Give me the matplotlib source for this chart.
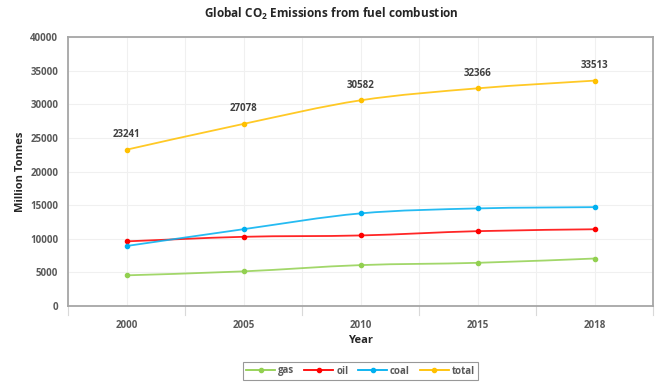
"""
Line chart of global CO2 emissions from fuel combustion by fuel, 2000-2018.
Saves out.png (663 x 383 px).
"""
import matplotlib
matplotlib.use("Agg")
import matplotlib.pyplot as plt
from matplotlib.path import Path
from matplotlib.patches import PathPatch
from matplotlib.lines import Line2D

years = ["2000", "2005", "2010", "2015", "2018"]
gas = [4560, 5150, 6080, 6420, 7060]
oil = [9610, 10290, 10490, 11130, 11410]
coal = [8920, 11420, 13770, 14510, 14700]
total = [23241, 27078, 30582, 32366, 33513]

GREEN = "#92D050"
RED = "#FF0000"
BLUE = "#00B0F0"
GOLD = "#FFC000"
AXIS = "#A6A6A6"
GRID = "#F0F0F0"
TEXT = "#595959"
LABEL = "#404040"
FONT = "Open Sans"

plt.rcParams["font.family"] = [FONT, "DejaVu Sans"]
plt.rcParams["mathtext.fontset"] = "custom"
plt.rcParams["mathtext.rm"] = FONT
plt.rcParams["mathtext.bf"] = FONT + ":bold"


def smooth_path(xs, ys):
    # cubic bezier through the points, Catmull-Rom style tangents
    pts = list(zip(xs, ys))
    verts = [pts[0]]
    codes = [Path.MOVETO]
    n = len(pts)
    for i in range(n - 1):
        p0 = pts[max(i - 1, 0)]
        p1 = pts[i]
        p2 = pts[i + 1]
        p3 = pts[min(i + 2, n - 1)]
        c1 = (p1[0] + (p2[0] - p0[0]) / 6, p1[1] + (p2[1] - p0[1]) / 6)
        c2 = (p2[0] - (p3[0] - p1[0]) / 6, p2[1] - (p3[1] - p1[1]) / 6)
        verts += [c1, c2, p2]
        codes += [Path.CURVE4] * 3
    return Path(verts, codes)


fig = plt.figure(figsize=(6.63, 3.83), dpi=100)
ax = fig.add_axes([68 / 663, 1 - 306 / 383, 585 / 663, 269 / 383])

xs = list(range(len(years)))
series = [("gas", gas, GREEN), ("oil", oil, RED), ("coal", coal, BLUE), ("total", total, GOLD)]
handles = []
for name, vals, col in series:
    ax.add_patch(PathPatch(smooth_path(xs, vals), fc="none", ec=col, lw=1.3,
                           alpha=0.85, zorder=3))
    ax.plot(xs, vals, ls="none", marker="o", ms=3.0, color=col, zorder=4)
    handles.append(Line2D([], [], color=col, lw=1.3, marker="o", ms=3.0, label=name))

for x, v in zip(xs, total):
    ax.annotate(str(v), (x, v), xytext=(0, 7), textcoords="offset points",
                ha="center", va="bottom", fontsize=7, fontweight="bold", color=LABEL)

ax.set_xlim(-0.5, len(years) - 0.5)
ax.set_ylim(0, 40000)
ax.set_yticks(range(0, 40001, 5000))
ax.tick_params(axis="y", length=0, labelsize=7, labelcolor=TEXT, pad=7)
ax.set_xticks(xs)
ax.set_xticklabels(years)
ax.tick_params(axis="x", length=0, labelsize=7, labelcolor=TEXT, pad=10)
for lab in ax.get_xticklabels() + ax.get_yticklabels():
    lab.set_fontweight("bold")

# grid: horizontal every 5000, vertical at categories and their borders
ax.grid(axis="y", color=GRID, lw=0.8, zorder=0)
for b in [i - 0.5 for i in range(len(years) + 1)] + xs:
    ax.axvline(b, color=GRID, lw=0.8, zorder=0)
# category boundary tick marks below the axis
for b in [i - 0.5 for i in range(len(years) + 1)]:
    ax.plot([b, b], [0, -1300], color="#D9D9D9", lw=0.8, clip_on=False, zorder=1)

for s in ax.spines.values():
    s.set_color(AXIS)
    s.set_linewidth(1.3)

ax.set_xlabel("Year", fontsize=8, fontweight="bold", color="#262626", labelpad=3)
ax.set_ylabel("Million Tonnes", fontsize=8, fontweight="bold", color="#262626", labelpad=3)
fig.text(0.5, 1 - 14 / 383, r"Global CO$_\mathbf{2}$ Emissions from fuel combustion", ha="center",
         va="center", fontsize=8.5, fontweight="bold", color="#262626")

leg = fig.legend(handles=handles, loc="center", bbox_to_anchor=(360.5 / 663, 1 - 371 / 383),
                 ncol=4, fontsize=7, frameon=True, fancybox=False, handlelength=3.0,
                 handletextpad=0.3, columnspacing=1.0, borderpad=0.35)
leg.get_frame().set_edgecolor("#7F7F7F")
leg.get_frame().set_linewidth(0.8)
for t in leg.get_texts():
    t.set_fontweight("bold")
    t.set_color(TEXT)

fig.savefig("out.png", dpi=100, facecolor="white")
